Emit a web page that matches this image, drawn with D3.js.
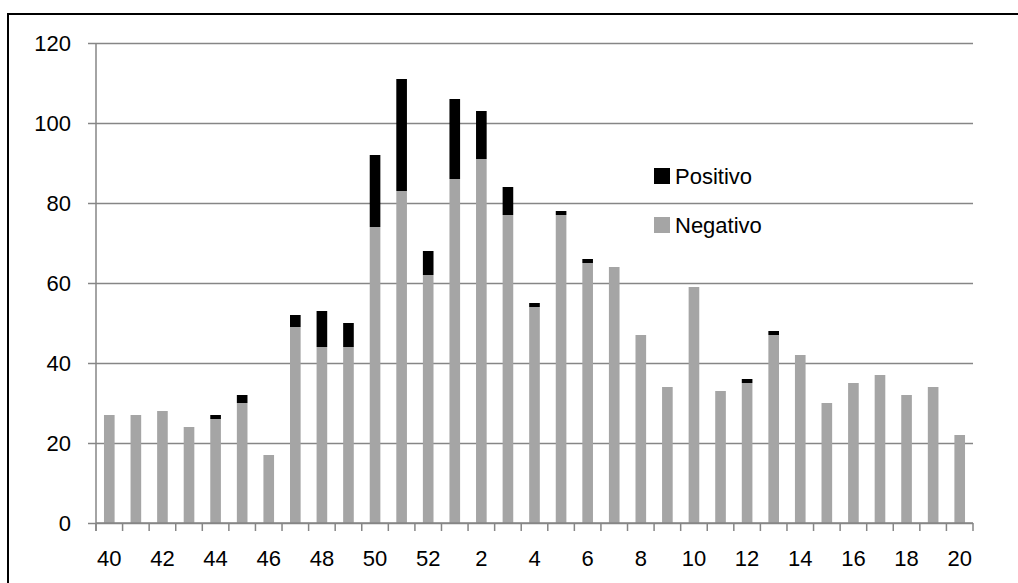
<!DOCTYPE html>
<html>
<head>
<meta charset="utf-8">
<script src="https://cdn.jsdelivr.net/npm/d3@7"></script>
<style>
  html, body { margin: 0; padding: 0; background: #fff; }
  svg { display: block; }
  text { font-family: "Liberation Sans", "Open Sans", sans-serif; fill: #000; }
</style>
</head>
<body>
<svg id="chart" width="1018" height="583"></svg>
<script>
// Epidemiological weeks (40-52, then 1-20)
const weeks = [40,41,42,43,44,45,46,47,48,49,50,51,52,1,2,3,4,5,6,7,8,9,10,11,12,13,14,15,16,17,18,19,20];
// Negative results per week
const negativo = [27,27,28,24,26,30,17,49,44,44,74,83,62,86,91,77,54,77,65,64,47,34,59,33,35,47,42,30,35,37,32,34,22];
// Positive results per week
const positivo = [0,0,0,0,1,2,0,3,9,6,18,28,6,20,12,7,1,1,1,0,0,0,0,0,1,1,0,0,0,0,0,0,0];
const yTicks = [0,20,40,60,80,100,120];
const seriesNames = ["Positivo", "Negativo"];
const seriesColors = {Positivo: "#000000", Negativo: "#a5a5a5"};

const FONT = 22;
const svg = d3.select("#chart");
const margin = {left: 96, right: 45, top: 43, bottom: 60};
const W = 1018, H = 583;
const x0 = margin.left, x1 = W - margin.right;
const y0 = H - margin.bottom, y1 = margin.top;

// Outer frame
svg.append("rect")
  .attr("x", 8).attr("y", 14)
  .attr("width", 1018).attr("height", 583)
  .attr("fill", "none").attr("stroke", "#000").attr("stroke-width", 2);

const keys = weeks.map((w, i) => i);
const x = d3.scaleBand().domain(keys).range([x0, x1]).paddingInner(0.6).paddingOuter(0.3);
const y = d3.scaleLinear().domain([0, 120]).range([y0, y1]);

// Gridlines and y-axis labels
const yAxis = d3.axisLeft(y).tickValues(yTicks).tickSize(-(x1 - x0)).tickSizeOuter(0).tickPadding(25);
const gy = svg.append("g").attr("transform", `translate(${x0},0)`).call(yAxis);
gy.select(".domain").remove();
gy.selectAll(".tick line").attr("stroke", "#868686").attr("stroke-width", 1.5).attr("x1", -8);
gy.selectAll(".tick text").attr("font-size", FONT).attr("fill", "#000")
  .attr("font-family", "Liberation Sans, Open Sans, sans-serif");

// Vertical axis line
svg.append("line").attr("x1", x0).attr("x2", x0).attr("y1", y1).attr("y2", y0 + 8)
  .attr("stroke", "#868686").attr("stroke-width", 1.5);

// Stacked bars
const rows = weeks.map((w, i) => ({i, Negativo: negativo[i], Positivo: positivo[i]}));
const stack = d3.stack().keys(["Negativo", "Positivo"]);
const layers = stack(rows);
svg.append("g").selectAll("g").data(layers).join("g")
  .attr("fill", d => seriesColors[d.key])
  .selectAll("rect").data(d => d.filter(s => s[1] > s[0])).join("rect")
  .attr("x", d => x(d.data.i))
  .attr("width", x.bandwidth())
  .attr("y", d => y(d[1]))
  .attr("height", d => y(d[0]) - y(d[1]));

// X-axis ticks at category boundaries
const boundaries = d3.range(weeks.length + 1).map(k => x0 + k * (x1 - x0) / weeks.length);
svg.append("g").selectAll("line").data(boundaries).join("line")
  .attr("x1", d => d).attr("x2", d => d)
  .attr("y1", y0).attr("y2", y0 + 8)
  .attr("stroke", "#868686").attr("stroke-width", 1.5);
svg.append("line").attr("x1", x0).attr("x2", x1).attr("y1", y0).attr("y2", y0)
  .attr("stroke", "#868686").attr("stroke-width", 1.5);

// X labels every other week
svg.append("g").selectAll("text").data(keys.filter(i => i % 2 === 0)).join("text")
  .attr("x", i => x(i) + x.bandwidth() / 2)
  .attr("y", y0 + 35)
  .attr("text-anchor", "middle")
  .attr("dominant-baseline", "central")
  .attr("font-size", FONT)
  .text(i => weeks[i]);

// Legend
const legend = svg.append("g").attr("transform", "translate(654,168)");
seriesNames.forEach((name, k) => {
  const g = legend.append("g").attr("transform", `translate(0,${k * 49})`);
  g.append("rect").attr("width", 16).attr("height", 16).attr("fill", seriesColors[name]);
  g.append("text").attr("x", 21).attr("y", 8).attr("dominant-baseline", "central")
    .attr("font-size", FONT).text(name);
});
</script>
</body>
</html>
